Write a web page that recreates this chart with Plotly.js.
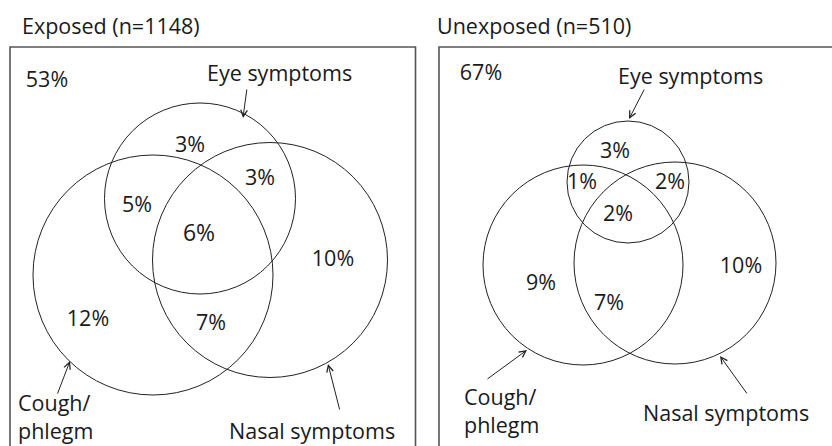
<!DOCTYPE html>
<html>
<head>
<meta charset="utf-8">
<script src="https://cdn.plot.ly/plotly-3.0.1.min.js"></script>
<style>html,body{margin:0;padding:0;background:#fff;}#chart{width:832px;height:446px;}</style>
</head>
<body>
<div id="chart"></div>
<script>
// ---- data ----
const panelTitles = ['Exposed (n=1148)', 'Unexposed (n=510)'];
const setNames = ['Eye symptoms', 'Cough/<br>phlegm', 'Nasal symptoms'];
const regionNames = ['None', 'Eye only', 'Eye & Cough', 'Eye & Nasal', 'All three', 'Cough only', 'Cough & Nasal', 'Nasal only'];
const exposedPct = [53, 3, 5, 3, 6, 12, 7, 10];
const unexposedPct = [67, 3, 1, 2, 2, 9, 7, 10];

// ---- layout geometry (pixel space) ----
const geom = [
  {
    box: [10, 47, 415.5, 460],
    title: [20, 25],
    circles: [[200, 198.5, 95.5], [153, 275, 120], [270, 260, 117.5]], // eye, cough, nasal
    regionPos: [[47, 82], [190, 147], [137, 207], [260, 180], [199, 235], [88, 321], [211, 325], [333, 261]],
    labelPos: [[279, 72, 'center'], [16, 416, 'left'], [312, 430, 'center']],
    arrows: [[247, 88, 243, 118], [57, 395, 70, 361], [340, 411, 328, 364]]
  },
  {
    box: [439, 47, 840, 460],
    title: [435, 25],
    circles: [[628, 182, 61], [583, 265, 100], [675, 263, 101]],
    regionPos: [[481, 75], [615, 153], [582, 184], [670, 184], [618, 216], [541, 285], [609, 305], [741, 268]],
    labelPos: [[690, 75, 'center'], [462, 410, 'left'], [726, 412, 'center']],
    arrows: [[645, 88, 629, 119], [486, 380, 527, 350], [748, 395, 720, 356]]
  }
];
const pctSets = [exposedPct, unexposedPct];

const FONT = 'Open Sans, sans-serif';
const TXT = '#1a1a1a';
const FS = 21.5;

const traces = [];
const shapes = [];
const annotations = [];

geom.forEach((g, p) => {
  const vals = pctSets[p];
  traces.push({
    type: 'scatter', mode: 'text',
    x: g.regionPos.map(d => d[0]),
    y: g.regionPos.map(d => d[1]),
    text: vals.map(v => v + '%'),
    customdata: regionNames,
    textposition: 'middle center',
    textfont: {family: FONT, size: vals.map((v, i) => (p === 0 && i === 4) ? FS + 1.5 : FS), color: TXT},
    hoverinfo: 'skip', showlegend: false
  });
  shapes.push({type: 'rect', xref: 'x', yref: 'y', x0: g.box[0], y0: g.box[1], x1: g.box[2], y1: g.box[3],
    line: {color: '#555', width: 1.6}, fillcolor: 'rgba(0,0,0,0)'});
  g.circles.forEach(c => {
    shapes.push({type: 'circle', xref: 'x', yref: 'y', x0: c[0] - c[2], x1: c[0] + c[2], y0: c[1] - c[2], y1: c[1] + c[2],
      line: {color: '#222', width: 1}, fillcolor: 'rgba(0,0,0,0)'});
  });
  annotations.push({xref: 'x', yref: 'y', x: g.title[0], y: g.title[1], text: panelTitles[p], showarrow: false,
    xanchor: 'left', yanchor: 'middle', font: {family: FONT, size: FS, color: TXT}});
  setNames.forEach((name, i) => {
    const lp = g.labelPos[i];
    annotations.push({xref: 'x', yref: 'y', x: lp[0], y: lp[1], text: name, showarrow: false,
      xanchor: lp[2], yanchor: 'middle', align: 'left', font: {family: FONT, size: FS, color: TXT}});
    const a = g.arrows[i];
    annotations.push({xref: 'x', yref: 'y', axref: 'x', ayref: 'y', x: a[2], y: a[3], ax: a[0], ay: a[1],
      text: '', showarrow: true, arrowhead: 5, arrowsize: 1.3, arrowwidth: 1, arrowcolor: '#222', standoff: 0, startstandoff: 0});
  });
});

const layout = {
  width: 832, height: 446,
  margin: {l: 0, r: 0, t: 0, b: 0},
  paper_bgcolor: '#fff', plot_bgcolor: '#fff',
  xaxis: {range: [0, 832], visible: false, fixedrange: true},
  yaxis: {range: [446, 0], visible: false, fixedrange: true},
  shapes: shapes,
  annotations: annotations,
  showlegend: false
};

Plotly.newPlot('chart', traces, layout, {displayModeBar: false, staticPlot: true});
</script>
</body>
</html>
